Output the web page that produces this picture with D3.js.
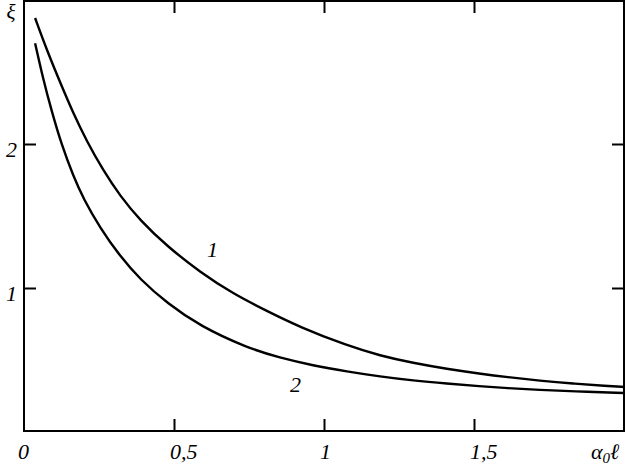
<!DOCTYPE html>
<html>
<head>
<meta charset="utf-8">
<script src="https://cdn.jsdelivr.net/npm/d3@7"></script>
<style>
  body { margin: 0; background: #fff; }
  .axis path { display: none; }
  .axis line { stroke: #000; stroke-width: 2; }
</style>
</head>
<body>
<div id="vis"></div>
<script>
// Curve 1 (upper) and curve 2 (lower)
var curve1X = [0.037, 0.076, 0.126, 0.164, 0.209, 0.263, 0.320, 0.387, 0.477, 0.587, 0.697, 0.810, 0.920, 1.077, 1.187, 1.297, 1.410, 1.520, 1.610, 1.720, 1.830, 1.943, 2.0];
var curve1Y = [2.875, 2.653, 2.400, 2.215, 2.020, 1.820, 1.640, 1.470, 1.290, 1.110, 0.960, 0.840, 0.728, 0.600, 0.530, 0.479, 0.438, 0.405, 0.381, 0.356, 0.336, 0.320, 0.313];
var curve2X = [0.037, 0.064, 0.092, 0.126, 0.164, 0.198, 0.253, 0.320, 0.387, 0.477, 0.587, 0.743, 0.853, 0.963, 1.077, 1.187, 1.297, 1.410, 1.520, 1.610, 1.720, 1.830, 2.0];
var curve2Y = [2.700, 2.450, 2.230, 1.990, 1.780, 1.620, 1.420, 1.220, 1.060, 0.895, 0.735, 0.585, 0.515, 0.462, 0.420, 0.385, 0.357, 0.336, 0.318, 0.305, 0.292, 0.282, 0.271];

// Tick values and their labels
var xTicks = [0.5, 1, 1.5];
var xTickLabels = ['0,5', '1', '1,5'];
var yTicks = [1, 2];
var yTickLabels = ['1', '2'];

var W = 627, H = 465;
var serif = '"Liberation Serif", "Times New Roman", Times, serif';

var svg = d3.select('#vis').append('svg')
    .attr('width', W)
    .attr('height', H);

var xScale = d3.scaleLinear().domain([0, 2]).range([24, 624]);
var yScale = d3.scaleLinear().domain([0, 3]).range([432, 0]);

var x0 = xScale(0), x1 = xScale(2), y0 = yScale(0) - 1, y1 = 1;

// Inward ticks on all four sides
svg.append('g').attr('class', 'axis')
    .attr('transform', 'translate(0,' + y0 + ')')
    .call(d3.axisBottom(xScale).tickValues(xTicks).tickSize(-12).tickFormat(''));
svg.append('g').attr('class', 'axis')
    .attr('transform', 'translate(0,' + y1 + ')')
    .call(d3.axisTop(xScale).tickValues(xTicks).tickSize(-12).tickFormat(''));
svg.append('g').attr('class', 'axis')
    .attr('transform', 'translate(' + x0 + ',0)')
    .call(d3.axisLeft(yScale).tickValues(yTicks).tickSize(-12).tickFormat(''));
svg.append('g').attr('class', 'axis')
    .attr('transform', 'translate(' + x1 + ',0)')
    .call(d3.axisRight(yScale).tickValues(yTicks).tickSize(-12).tickFormat(''));

// Frame
svg.append('rect')
    .attr('x', x0).attr('y', y1)
    .attr('width', x1 - x0).attr('height', y0 - y1)
    .attr('fill', 'none')
    .attr('stroke', '#000')
    .attr('stroke-width', 2);

// Curves
var line = d3.line()
    .x(function(d) { return xScale(d[0]); })
    .y(function(d) { return yScale(d[1]); })
    .curve(d3.curveBasis);

[[curve1X, curve1Y], [curve2X, curve2Y]].forEach(function(c) {
    var pts = c[0].map(function(x, i) { return [x, c[1][i]]; });
    svg.append('path')
        .attr('d', line(pts))
        .attr('fill', 'none')
        .attr('stroke', '#000')
        .attr('stroke-width', 2.4);
});

// helper for italic serif text
function label(x, y, txt, size) {
    return svg.append('text')
        .attr('x', x).attr('y', y)
        .attr('font-family', serif)
        .attr('font-style', 'italic')
        .attr('font-size', size || 22)
        .attr('fill', '#000')
        .text(txt);
}

// X tick labels
xTicks.forEach(function(d, i) {
    label(xScale(d) - 4, 459, xTickLabels[i]);
});
label(xScale(0) - 6, 459, '0');

// X axis title
var xt = label(591, 459, '');
xt.append('tspan').text('α');
xt.append('tspan').attr('dy', 4).attr('font-size', 15).text('0');
xt.append('tspan').attr('dy', -4).text('ℓ');

// Y tick labels
yTicks.forEach(function(d, i) {
    label(17, yScale(d) + 13, yTickLabels[i]).attr('text-anchor', 'end');
});

// Y axis title
label(11, 19, 'ξ', 21).attr('text-anchor', 'middle');

// Curve labels
label(207, 257, '1');
label(290, 392, '2');
</script>
</body>
</html>
